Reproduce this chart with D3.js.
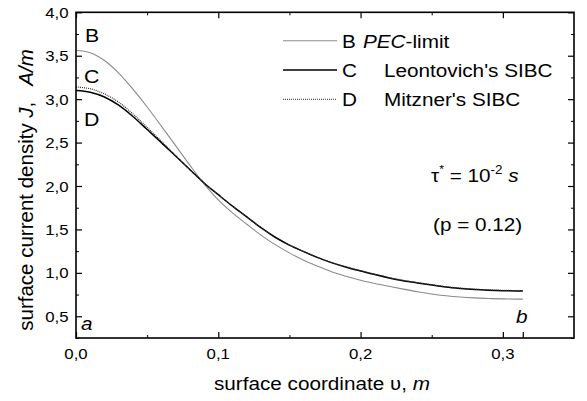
<!DOCTYPE html>
<html><head><meta charset="utf-8">
<script src="https://cdn.jsdelivr.net/npm/d3@7"></script>
<style>body{margin:0;background:#fff}text{font-family:"Liberation Sans",Arial,sans-serif;fill:#000}</style>
</head><body>
<svg id="c" width="587" height="401"></svg>
<script>
const vs = [0,0.01,0.02,0.03,0.04,0.05,0.06,0.07,0.08,0.09,0.10,0.11,0.12,0.13,0.14,0.15,0.16,0.17,0.18,0.19,0.20,0.21,0.22,0.23,0.24,0.25,0.26,0.27,0.28,0.29,0.30,0.31,0.314];
const seriesB = [3.56,3.535,3.445,3.30,3.115,2.91,2.69,2.465,2.24,2.025,1.84,1.69,1.56,1.435,1.325,1.23,1.145,1.075,1.01,0.96,0.915,0.878,0.845,0.813,0.783,0.757,0.737,0.722,0.712,0.705,0.70,0.698,0.698];
const seriesC = [3.10,3.08,3.025,2.93,2.80,2.65,2.50,2.345,2.19,2.035,1.90,1.768,1.645,1.52,1.41,1.32,1.245,1.175,1.115,1.065,1.022,0.98,0.942,0.91,0.884,0.86,0.836,0.82,0.808,0.80,0.795,0.792,0.79];
const seriesD = [3.14,3.12,3.06,2.965,2.83,2.675,2.515,2.35,2.19,2.035,1.90,1.768,1.645,1.52,1.41,1.32,1.245,1.176,1.117,1.068,1.025,0.984,0.946,0.914,0.888,0.864,0.84,0.824,0.812,0.804,0.799,0.796,0.794];
const xTicks = [0,0.1,0.2,0.3];
const xTickLabels = ["0,0","0,1","0,2","0,3"];
const yTicks = [0.5,1.0,1.5,2.0,2.5,3.0,3.5,4.0];
const yTickLabels = ["0,5","1,0","1,5","2,0","2,5","3,0","3,5","4,0"];
const legendKeys = ["B","C","D"];
const legendNames = ["PEC-limit","Leontovich's SIBC","Mitzner's SIBC"];

const L=76,R=574,T=12.3,B=338, SX=1.12;
const svg=d3.select("#c");
const x=d3.scaleLinear().domain([0,0.35]).range([L,R]);
const y=d3.scaleLinear().domain([0.25,4.0]).range([B,T]);

function txt(g,px,py,size,anchor){
  return g.append("text").attr("transform",`translate(${px},${py}) scale(${SX},1)`)
    .attr("font-size",size).attr("text-anchor",anchor||"start");
}

// curves
const line=d3.line().x((d,i)=>x(vs[i])).y(d=>y(d)).curve(d3.curveCatmullRom.alpha(0.5));
svg.append("path").attr("d",line(seriesB)).attr("fill","none").attr("stroke","#8a8a8a").attr("stroke-width",1.1);
svg.append("path").attr("d",line(seriesC)).attr("fill","none").attr("stroke","#000").attr("stroke-width",1.5);
svg.append("path").attr("d",line(seriesD)).attr("fill","none").attr("stroke","#333").attr("stroke-width",1.2).attr("stroke-dasharray","1,1");

// axes frame
const ax=svg.append("g");
const xMinor=d3.range(0.05,0.35,0.1);
const yMinor=d3.range(0.25,4.0,0.5);
function clean(g){g.select(".domain").remove();}
ax.append("g").attr("transform",`translate(0,${B})`).call(d3.axisBottom(x).tickValues(xTicks.concat([0.314])).tickSize(-6).tickFormat("")).call(clean).selectAll("line").attr("stroke-width",1.2);
ax.append("g").attr("transform",`translate(0,${B})`).call(d3.axisBottom(x).tickValues(xMinor).tickSize(-3).tickFormat("")).call(clean).selectAll("line").attr("stroke-width",1);
ax.append("g").attr("transform",`translate(0,${T})`).call(d3.axisTop(x).tickValues(xTicks).tickSize(-6).tickFormat("")).call(clean).selectAll("line").attr("stroke-width",1.2);
ax.append("g").attr("transform",`translate(0,${T})`).call(d3.axisTop(x).tickValues(xMinor).tickSize(-3).tickFormat("")).call(clean).selectAll("line").attr("stroke-width",1);
ax.append("g").attr("transform",`translate(${L},0)`).call(d3.axisLeft(y).tickValues(yTicks).tickSize(-6).tickFormat("")).call(clean).selectAll("line").attr("stroke-width",1.2);
ax.append("g").attr("transform",`translate(${L},0)`).call(d3.axisLeft(y).tickValues(yMinor).tickSize(-3).tickFormat("")).call(clean).selectAll("line").attr("stroke-width",1);
ax.append("g").attr("transform",`translate(${R},0)`).call(d3.axisRight(y).tickValues(yTicks).tickSize(-6).tickFormat("")).call(clean).selectAll("line").attr("stroke-width",1.2);
ax.append("g").attr("transform",`translate(${R},0)`).call(d3.axisRight(y).tickValues(yMinor).tickSize(-3).tickFormat("")).call(clean).selectAll("line").attr("stroke-width",1);
svg.append("rect").attr("x",L).attr("y",T).attr("width",R-L).attr("height",B-T).attr("fill","none").attr("stroke","#000").attr("stroke-width",1.6);

// tick labels
xTicks.forEach((v,i)=>txt(svg,x(v),358.5,15,"middle").text(xTickLabels[i]));
yTicks.forEach((v,i)=>txt(svg,68.5,y(v)+5.5,15,"end").text(yTickLabels[i]));

// axis titles
const xt=txt(svg,322,390,18.5,"middle");
xt.append("tspan").text("surface coordinate  \u028B, ");
xt.append("tspan").attr("font-style","italic").text("m");
const yt=svg.append("text").attr("transform","translate(33,190) rotate(-90)").attr("font-size",20.5).attr("text-anchor","middle");
yt.append("tspan").text("surface current density ");
yt.append("tspan").attr("font-style","italic").text("J");
yt.append("tspan").text(",");
yt.append("tspan").attr("dx",16).attr("font-style","italic").text("A/m");

// legend
const ly=[40.7,70,99.3];
legendKeys.forEach((k,i)=>{
  const st=[{c:"#8a8a8a",w:1.1,d:null},{c:"#000",w:1.5,d:null},{c:"#555",w:1.2,d:"1,1"}][i];
  svg.append("line").attr("x1",283).attr("x2",337).attr("y1",ly[i]).attr("y2",ly[i]).attr("stroke",st.c).attr("stroke-width",st.w).attr("stroke-dasharray",st.d);
  txt(svg,342,ly[i]+7,18.5).text(k);
  const t=txt(svg,i===0?363:384,ly[i]+7,18.5);
  if(i===0){t.append("tspan").attr("font-style","italic").text("PEC");t.append("tspan").text("-limit");}
  else t.text(legendNames[i]);
});

// curve annotations
txt(svg,85,41.7,19).text("B");
txt(svg,84,83,19).text("C");
txt(svg,84,126,19).text("D");
txt(svg,81,330,18.5).attr("font-style","italic").text("a");
txt(svg,516,323,18.5).attr("font-style","italic").text("b");

// tau annotation
const ta=txt(svg,431,181.5,18.5);
ta.append("tspan").text("\u03C4");
ta.append("tspan").attr("font-size",11).attr("dy",-9).attr("dx",0).text("*");
ta.append("tspan").attr("dy",9).text(" = 10");
ta.append("tspan").attr("font-size",12).attr("dy",-8).text("-2");
ta.append("tspan").attr("dy",8).text(" ");
ta.append("tspan").attr("font-style","italic").text("s");
txt(svg,433,231,18.5).text("(p = 0.12)");
</script>
</body></html>
